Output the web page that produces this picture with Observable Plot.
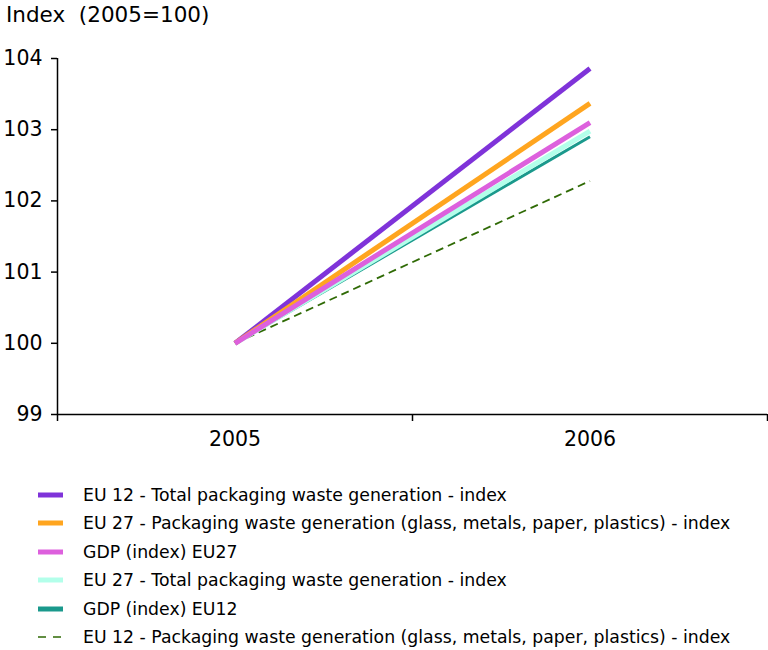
<!DOCTYPE html>
<html><head><meta charset="utf-8">
<script src="https://cdn.jsdelivr.net/npm/d3@7"></script>
<script src="https://cdn.jsdelivr.net/npm/@observablehq/plot@0.6"></script>
<style>
body{margin:0;background:#fff;font-family:"DejaVu Sans",sans-serif;}
#title{height:30px;line-height:30px;font-size:21.5px;padding-left:6px;color:#000;white-space:pre;}
#legend{margin-top:13px;}
.row{position:relative;height:28.4px;font-size:17.3px;color:#000;}
.sw{position:absolute;left:38px;top:6px;}
.lab{position:absolute;left:83px;top:1px;white-space:nowrap;line-height:22px;}
</style></head>
<body>
<div id="title">Index  (2005=100)</div>
<div id="chart"></div>
<div id="legend"></div>
<script>
const years = [2005, 2006];
const seriesNames = [
  "EU 12 - Total packaging waste generation - index",
  "EU 27 - Packaging waste generation (glass, metals, paper, plastics) - index",
  "GDP (index) EU27",
  "EU 27 - Total packaging waste generation - index",
  "GDP (index) EU12",
  "EU 12 - Packaging waste generation (glass, metals, paper, plastics) - index"
];
const eu12Total = [100, 103.86];
const eu27Pack = [100, 103.37];
const gdpEU27 = [100, 103.10];
const eu27Total = [100, 102.98];
const gdpEU12 = [100, 102.90];
const eu12Pack = [100, 102.28];
const colors = ["#7F33D9", "#FFA51F", "#DD60DD", "#B3FFEA", "#1A998C", "#2F6A05"];
const widths = [5, 5, 5, 5, 3, 1.8];
const dashes = [null, null, null, null, null, "8,5"];
const allValues = [eu12Total, eu27Pack, gdpEU27, eu27Total, gdpEU12, eu12Pack];
const yTicks = [99, 100, 101, 102, 103, 104];

const data = [];
allValues.forEach((vals, i) => years.forEach((yr, j) => data.push({series: seriesNames[i], idx: i, year: yr, value: vals[j]})));

const drawOrder = [5, 4, 3, 0, 1, 2];
const lineMarks = drawOrder.map(i => Plot.line(data.filter(d => d.idx === i), {
  x: "year", y: "value", stroke: colors[i], strokeWidth: widths[i],
  strokeDasharray: dashes[i] || undefined, strokeLinecap: "butt"
}));

const plot = Plot.plot({
  width: 768, height: 440,
  marginTop: 28, marginBottom: 56, marginLeft: 57, marginRight: 1,
  style: {fontFamily: "'DejaVu Sans',sans-serif", color: "#000", fontSize: "20.5px"},
  x: {domain: [2004.5, 2006.5]},
  y: {domain: [99, 104]},
  marks: [
    Plot.ruleX([2004.5], {y1: 99, y2: 104, stroke: "#000", strokeWidth: 1.5}),
    Plot.ruleY([99], {stroke: "#000", strokeWidth: 1.5}),
    Plot.axisY({ticks: yTicks, tickSize: 6, tickPadding: 9, fontSize: 20.5, stroke: "#000", strokeWidth: 1.5, label: null, tickFormat: d => String(d)}),
    Plot.axisX({ticks: [2004.5, 2005.5, 2006.5], tickSize: 7, stroke: "#000", strokeWidth: 1.5, tickFormat: () => "", label: null}),
    Plot.axisX({ticks: years, tickSize: 0, tickPadding: 17, fontSize: 20.5, label: null, tickFormat: d => String(d)}),
    ...lineMarks
  ]
});
document.getElementById("chart").appendChild(plot);

const leg = document.getElementById("legend");
const ns = "http://www.w3.org/2000/svg";
seriesNames.forEach((name, i) => {
  const row = document.createElement("div");
  row.className = "row";
  const sw = document.createElementNS(ns, "svg");
  sw.setAttribute("class", "sw");
  sw.setAttribute("width", "26");
  sw.setAttribute("height", "12");
  const ln = document.createElementNS(ns, "line");
  ln.setAttribute("x1", "0"); ln.setAttribute("x2", "25");
  ln.setAttribute("y1", "6"); ln.setAttribute("y2", "6");
  ln.setAttribute("stroke", colors[i]);
  ln.setAttribute("stroke-width", i === 5 ? 1.5 : Math.max(widths[i], 5));
  if (i === 5) ln.setAttribute("stroke-dasharray", "8,7");
  sw.appendChild(ln);
  const lab = document.createElement("div");
  lab.className = "lab";
  lab.textContent = name;
  row.appendChild(sw); row.appendChild(lab);
  leg.appendChild(row);
});
</script>
</body></html>
